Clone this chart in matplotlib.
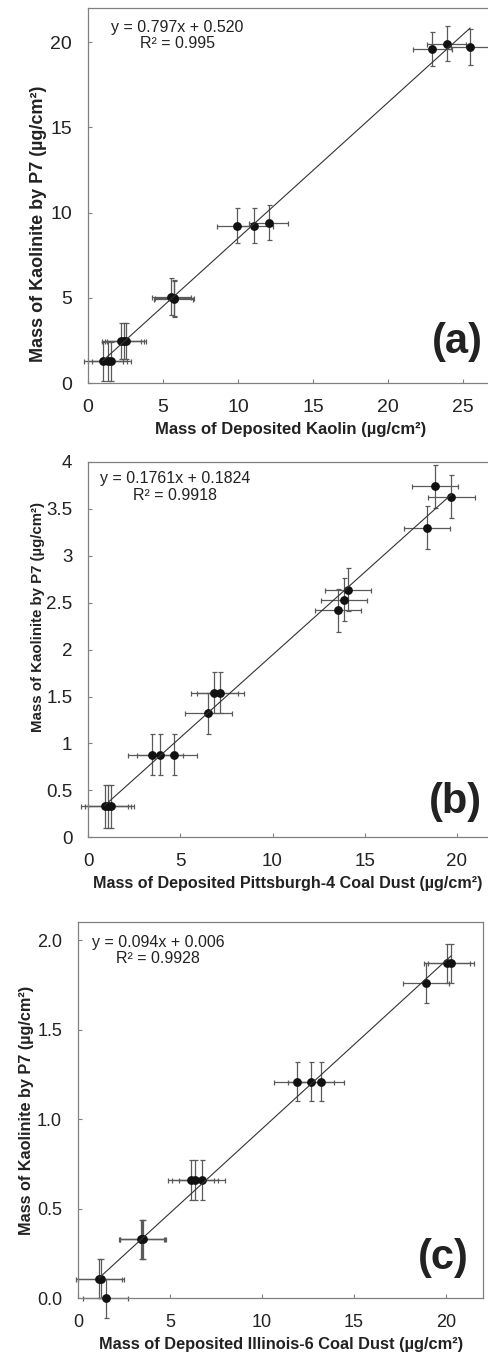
"""Kaolinite mass by P7 vs deposited mass, three calibration panels."""

import matplotlib.pyplot as plt

plt.rcParams["font.family"] = ["Liberation Sans", "DejaVu Sans"]

# panel (a): deposited kaolin
kaolin_x = [1.0, 1.3, 1.55, 2.2, 2.4, 2.55, 5.55, 5.7, 5.75, 9.93, 11.05, 12.04, 22.95, 23.93, 25.47]
kaolin_y = [1.27, 1.27, 1.27, 2.48, 2.48, 2.48, 5.07, 4.93, 5.0, 9.22, 9.22, 9.41, 19.57, 19.9, 19.69]
kaolin_xerr = [1.3] * 15
kaolin_yerr = [1.12, 1.12, 1.12, 1.07, 1.07, 1.07, 1.08, 1.07, 1.07, 1.03, 1.03, 1.03, 1.0, 1.02, 1.06]

# panel (b): Pittsburgh-4 coal dust
pitt_x = [0.9, 1.07, 1.23, 3.44, 3.89, 4.64, 6.51, 6.84, 7.17, 13.56, 13.88, 14.1, 18.39, 18.82, 19.71]
pitt_y = [0.33, 0.33, 0.33, 0.88, 0.88, 0.88, 1.32, 1.54, 1.54, 2.42, 2.53, 2.64, 3.30, 3.74, 3.63]
pitt_xerr = [1.27] * 15
pitt_yerr = [0.23, 0.23, 0.23, 0.22, 0.22, 0.22, 0.22, 0.22, 0.22, 0.23, 0.23, 0.23, 0.23, 0.23, 0.23]

# panel (c): Illinois-6 coal dust
ill_x = [1.15, 1.25, 1.5, 3.45, 3.5, 3.55, 6.14, 6.36, 6.75, 11.92, 12.68, 13.22, 18.93, 20.05, 20.27]
ill_y = [0.11, 0.11, 0.0, 0.33, 0.33, 0.33, 0.66, 0.66, 0.66, 1.21, 1.21, 1.21, 1.76, 1.87, 1.87]
ill_xerr = [1.24] * 15
ill_yerr = [0.11] * 15

slopes = [0.797, 0.1761, 0.094]
intercepts = [0.520, 0.1824, 0.006]
equations = ["y = 0.797x + 0.520\nR² = 0.995",
             "y = 0.1761x + 0.1824\nR² = 0.9918",
             "y = 0.094x + 0.006\nR² = 0.9928"]
panel_tags = ["(a)", "(b)", "(c)"]
x_titles = ["Mass of Deposited Kaolin (µg/cm²)",
            "Mass of Deposited Pittsburgh-4 Coal Dust (µg/cm²)",
            "Mass of Deposited Illinois-6 Coal Dust (µg/cm²)"]
y_title = "Mass of Kaolinite by P7 (µg/cm²)"
y_ticks = [[0, 5, 10, 15, 20],
           [0, 0.5, 1, 1.5, 2, 2.5, 3, 3.5, 4],
           [0.0, 0.5, 1.0, 1.5, 2.0]]
y_ticklabels = [["0", "5", "10", "15", "20"],
                ["0", "0.5", "1", "1.5", "2", "2.5", "3", "3.5", "4"],
                ["0.0", "0.5", "1.0", "1.5", "2.0"]]
x_ticks = [[0, 5, 10, 15, 20, 25], [0, 5, 10, 15, 20], [0, 5, 10, 15, 20]]

SPINE = "#808080"
ERR = "#5a5a5a"

fig = plt.figure(figsize=(4.89, 13.55), dpi=100)

panels = [
    dict(rect=[0.180, 0.7173, 0.8282, 0.2768], xlim=(0, 27), ylim=(0, 22),
         x=kaolin_x, y=kaolin_y, xerr=kaolin_xerr, yerr=kaolin_yerr,
         tick_fs=14, xlab_fs=12, ylab_fs=13, ylab_pos=(-0.123, 0.425),
         xlab_pos=(0.501, -0.125), eq_pos=(0.22, 0.9275), tag_pos=(0.911, 0.109)),
    dict(rect=[0.1806, 0.3821, 0.8287, 0.2770], xlim=(0, 22), ylim=(0, 4),
         x=pitt_x, y=pitt_y, xerr=pitt_xerr, yerr=pitt_yerr,
         tick_fs=13.5, xlab_fs=11.6, ylab_fs=10.8, ylab_pos=(-0.124, 0.587),
         xlab_pos=(0.493, -0.124), eq_pos=(0.214, 0.933), tag_pos=(0.905, 0.094)),
    dict(rect=[0.1595, 0.04185, 0.8276, 0.2775], xlim=(0, 22), ylim=(0, 2.1),
         x=ill_x, y=ill_y, xerr=ill_xerr, yerr=ill_yerr,
         tick_fs=13, xlab_fs=11.8, ylab_fs=11.7, ylab_pos=(-0.128, 0.5),
         xlab_pos=(0.502, -0.124), eq_pos=(0.198, 0.9245), tag_pos=(0.902, 0.107)),
]

for i, p in enumerate(panels):
    ax = fig.add_axes(p["rect"])
    ax.set_xlim(*p["xlim"])
    ax.set_ylim(*p["ylim"])

    ax.errorbar(p["x"], p["y"], xerr=p["xerr"], yerr=p["yerr"], fmt="none",
                ecolor=ERR, elinewidth=0.9, capsize=1.8, capthick=0.9,
                clip_on=False, zorder=2)
    ax.plot(p["x"], p["y"], "o", color="#111111", markersize=5.3, clip_on=False, zorder=3)

    x0, x1 = min(p["x"]), max(p["x"])
    ax.plot([x0, x1], [slopes[i] * x0 + intercepts[i], slopes[i] * x1 + intercepts[i]],
            color="#333333", lw=0.8, zorder=4)

    ax.set_xticks(x_ticks[i])
    ax.set_yticks(y_ticks[i])
    ax.set_yticklabels(y_ticklabels[i])
    ax.tick_params(direction="in", length=3, width=0.8, color=SPINE,
                   labelsize=p["tick_fs"], labelcolor="#222222", pad=11.5)
    for s in ax.spines.values():
        s.set_color(SPINE)
        s.set_linewidth(0.9)

    ax.set_xlabel(x_titles[i], fontsize=p["xlab_fs"], fontweight="bold",
                  color="#222222", va="center")
    ax.xaxis.set_label_coords(*p["xlab_pos"])
    ax.set_ylabel(y_title, fontsize=p["ylab_fs"], fontweight="bold",
                  color="#222222", va="center")
    ax.yaxis.set_label_coords(*p["ylab_pos"])

    ax.text(p["eq_pos"][0], p["eq_pos"][1], equations[i], transform=ax.transAxes,
            ha="center", va="center", multialignment="center", fontsize=11.5,
            linespacing=1.1, color="#222222")
    ax.text(p["tag_pos"][0], p["tag_pos"][1], panel_tags[i], transform=ax.transAxes,
            ha="center", va="center", fontsize=30, fontweight="bold", color="#222222")

fig.savefig("out.png", dpi=100)
plt.close(fig)
